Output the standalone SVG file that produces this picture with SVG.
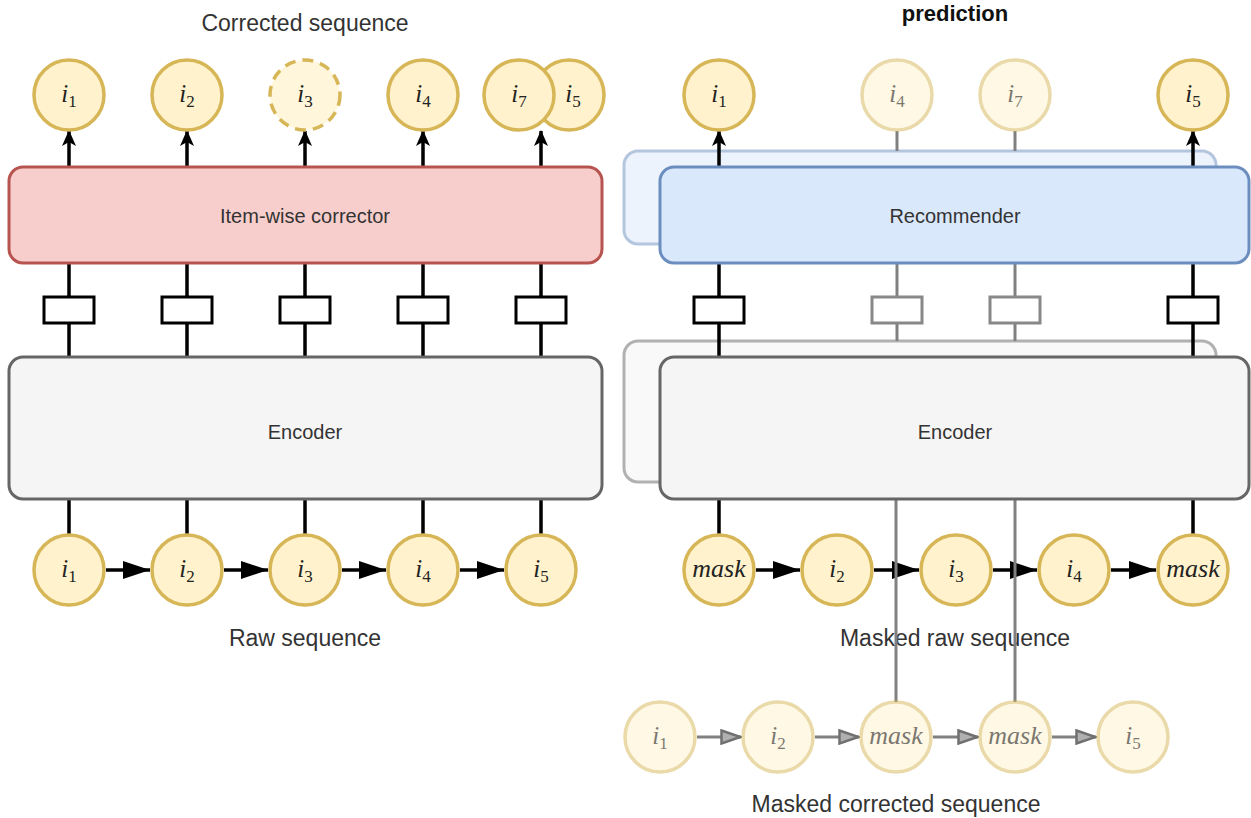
<svg xmlns="http://www.w3.org/2000/svg" width="1251" height="818" viewBox="0 0 1251 818">
<style>
.t{font-family:"Liberation Sans",Arial,sans-serif;fill:#333;text-anchor:middle}
.cap{font-size:23px}
.bl{font-size:20px}
.bold{font-weight:bold;fill:#111;font-size:22px}
.m{font-family:"Liberation Serif","Times New Roman",serif;font-style:italic;font-size:25px;fill:#222;text-anchor:middle}
.s{font-style:normal;font-size:17px}
.mk{font-size:26px}
.itm{fill:#fff2cc;stroke:#d6b656;stroke-width:3.5}
.dash{fill:#fff2cc;fill-opacity:0.7;stroke:#d6b656;stroke-width:3.5;stroke-dasharray:11 7}
.fade{opacity:0.5}
.fadet{opacity:0.6}
.red{fill:#f8cecc;stroke:#b85450;stroke-width:3}
.blue{fill:#dae8fc;stroke:#6c8ebf;stroke-width:3}
.gray{fill:#f5f5f5;stroke:#666;stroke-width:3}
.sb{fill:#fff;stroke:#000;stroke-width:3}
.sbg{fill:#fff;stroke:#888;stroke-width:3}
.ln{stroke:#000;stroke-width:3.5;fill:none}
.lg{stroke:#808080;stroke-width:3;fill:none}
.up{marker-end:url(#up)}
.ar{marker-end:url(#blk)}
.ag{marker-end:url(#gry)}
</style>
<defs>
<marker id="up" markerUnits="userSpaceOnUse" viewBox="0 0 16 15" refX="15" refY="7.5" markerWidth="16" markerHeight="15" orient="auto"><path d="M0,0.5 L16,7.5 L0,14.5 L4,7.5 z" fill="#000"/></marker>
<marker id="blk" markerUnits="userSpaceOnUse" viewBox="0 0 27 18" refX="27" refY="9" markerWidth="27" markerHeight="18" orient="auto"><path d="M0,0 L27,9 L0,18 z" fill="#000"/></marker>
<marker id="gry" markerUnits="userSpaceOnUse" viewBox="0 0 22 16" refX="21" refY="8" markerWidth="22" markerHeight="16" orient="auto"><path d="M1.5,1.5 L20.5,8 L1.5,14.5 z" fill="#b0b0b0" stroke="#707070" stroke-width="2.5"/></marker>
</defs>

<g id="labels">
<text class="t cap" x="305" y="31">Corrected sequence</text>
<text class="t bold" x="955" y="21">prediction</text>
<text class="t cap" x="305" y="646">Raw sequence</text>
<text class="t cap" x="955" y="646">Masked raw sequence</text>
<text class="t cap" x="896" y="812">Masked corrected sequence</text>
</g>

<g id="back-blocks">
<rect id="rec-back" class="blue fade" x="624" y="151" width="592" height="93" rx="14"/>
<rect id="enc-back" class="gray fade" x="624" y="341" width="592" height="141" rx="14"/>
</g>

<g id="connectors">
<line class="ln up" x1="69" y1="167" x2="69" y2="131"/>
<line class="ln up" x1="187" y1="167" x2="187" y2="131"/>
<line class="ln up" x1="305" y1="167" x2="305" y2="131"/>
<line class="ln up" x1="423" y1="167" x2="423" y2="131"/>
<line class="ln up" x1="541" y1="167" x2="541" y2="131"/>
<line class="ln" x1="69" y1="263" x2="69" y2="357"/>
<line class="ln" x1="187" y1="263" x2="187" y2="357"/>
<line class="ln" x1="305" y1="263" x2="305" y2="357"/>
<line class="ln" x1="423" y1="263" x2="423" y2="357"/>
<line class="ln" x1="541" y1="263" x2="541" y2="357"/>
<line class="ln" x1="69" y1="499" x2="69" y2="535"/>
<line class="ln" x1="187" y1="499" x2="187" y2="535"/>
<line class="ln" x1="305" y1="499" x2="305" y2="535"/>
<line class="ln" x1="423" y1="499" x2="423" y2="535"/>
<line class="ln" x1="541" y1="499" x2="541" y2="535"/>
<line class="ln ar" x1="106" y1="570" x2="150" y2="570"/>
<line class="ln ar" x1="224" y1="570" x2="268" y2="570"/>
<line class="ln ar" x1="342" y1="570" x2="386" y2="570"/>
<line class="ln ar" x1="460" y1="570" x2="504" y2="570"/>
<line class="ln up" x1="719" y1="167" x2="719" y2="131"/>
<line class="ln up" x1="1193" y1="167" x2="1193" y2="131"/>
<line class="lg" x1="897" y1="131" x2="897" y2="151"/>
<line class="lg" x1="1015" y1="131" x2="1015" y2="151"/>
<line class="ln" x1="719" y1="263" x2="719" y2="357"/>
<line class="ln" x1="1193" y1="263" x2="1193" y2="357"/>
<line class="lg" x1="897" y1="263" x2="897" y2="341"/>
<line class="lg" x1="1015" y1="263" x2="1015" y2="341"/>
<line class="ln" x1="719" y1="499" x2="719" y2="535"/>
<line class="ln" x1="1193" y1="499" x2="1193" y2="535"/>
<line class="ln ar" x1="756" y1="570" x2="800" y2="570"/>
<line class="ln ar" x1="874" y1="570" x2="919" y2="570"/>
<line class="ln ar" x1="993" y1="570" x2="1037" y2="570"/>
<line class="ln ar" x1="1111" y1="570" x2="1156" y2="570"/>
<line class="lg" x1="896" y1="499" x2="896" y2="702"/>
<line class="lg" x1="1015" y1="499" x2="1015" y2="702"/>
<line class="lg ag" x1="697" y1="737" x2="741" y2="737"/>
<line class="lg ag" x1="815" y1="737" x2="859" y2="737"/>
<line class="lg ag" x1="933" y1="737" x2="978" y2="737"/>
<line class="lg ag" x1="1052" y1="737" x2="1096" y2="737"/>
</g>

<g id="corrector"><rect class="red" x="9" y="167" width="593" height="96" rx="14"/><text class="t bl" x="305" y="223">Item-wise corrector</text></g>
<g id="encoder-left"><rect class="gray" x="9" y="357" width="593" height="142" rx="14"/><text class="t bl" x="305" y="439">Encoder</text></g>
<g id="recommender"><rect class="blue" x="660" y="167" width="589" height="96" rx="14"/><text class="t bl" x="955" y="223">Recommender</text></g>
<g id="encoder-right"><rect class="gray" x="660" y="357" width="589" height="142" rx="14"/><text class="t bl" x="955" y="439">Encoder</text></g>

<g id="boxes">
<rect class="sb" x="44" y="297" width="50" height="26"/>
<rect class="sb" x="162" y="297" width="50" height="26"/>
<rect class="sb" x="280" y="297" width="50" height="26"/>
<rect class="sb" x="398" y="297" width="50" height="26"/>
<rect class="sb" x="516" y="297" width="50" height="26"/>
<rect class="sb" x="694" y="297" width="50" height="26"/>
<rect class="sbg" x="872" y="297" width="50" height="26"/>
<rect class="sbg" x="990" y="297" width="50" height="26"/>
<rect class="sb" x="1168" y="297" width="50" height="26"/>
</g>

<g id="corrected-seq">
<g id="c1"><circle class="itm" cx="69" cy="95" r="35"/><text class="m" x="69" y="102">i<tspan class="s" dy="5">1</tspan></text></g>
<g id="c2"><circle class="itm" cx="187" cy="95" r="35"/><text class="m" x="187" y="102">i<tspan class="s" dy="5">2</tspan></text></g>
<g id="c3"><circle class="dash" cx="305" cy="95" r="35"/><text class="m" x="305" y="102">i<tspan class="s" dy="5">3</tspan></text></g>
<g id="c4"><circle class="itm" cx="423" cy="95" r="35"/><text class="m" x="423" y="102">i<tspan class="s" dy="5">4</tspan></text></g>
<g id="c5"><circle class="itm" cx="569" cy="95" r="35"/><text class="m" x="573" y="102">i<tspan class="s" dy="5">5</tspan></text></g>
<g id="c7"><circle class="itm" cx="519" cy="95" r="35"/><text class="m" x="519" y="102">i<tspan class="s" dy="5">7</tspan></text></g>
</g>

<g id="raw-seq">
<g id="r1"><circle class="itm" cx="69" cy="570" r="35"/><text class="m" x="69" y="577">i<tspan class="s" dy="5">1</tspan></text></g>
<g id="r2"><circle class="itm" cx="187" cy="570" r="35"/><text class="m" x="187" y="577">i<tspan class="s" dy="5">2</tspan></text></g>
<g id="r3"><circle class="itm" cx="305" cy="570" r="35"/><text class="m" x="305" y="577">i<tspan class="s" dy="5">3</tspan></text></g>
<g id="r4"><circle class="itm" cx="423" cy="570" r="35"/><text class="m" x="423" y="577">i<tspan class="s" dy="5">4</tspan></text></g>
<g id="r5"><circle class="itm" cx="541" cy="570" r="35"/><text class="m" x="541" y="577">i<tspan class="s" dy="5">5</tspan></text></g>
</g>

<g id="prediction-seq">
<g id="p1"><circle class="itm" cx="719" cy="95" r="35"/><text class="m" x="719" y="102">i<tspan class="s" dy="5">1</tspan></text></g>
<g id="p4"><circle class="itm fade" cx="897" cy="95" r="35"/><text class="m fadet" x="897" y="102">i<tspan class="s" dy="5">4</tspan></text></g>
<g id="p7"><circle class="itm fade" cx="1015" cy="95" r="35"/><text class="m fadet" x="1015" y="102">i<tspan class="s" dy="5">7</tspan></text></g>
<g id="p5"><circle class="itm" cx="1193" cy="95" r="35"/><text class="m" x="1193" y="102">i<tspan class="s" dy="5">5</tspan></text></g>
</g>

<g id="masked-raw-seq">
<g id="mr1"><circle class="itm" cx="719" cy="570" r="35"/><text class="m mk" x="719" y="577">mask</text></g>
<g id="mr2"><circle class="itm" cx="837" cy="570" r="35"/><text class="m" x="837" y="577">i<tspan class="s" dy="5">2</tspan></text></g>
<g id="mr3"><circle class="itm" cx="956" cy="570" r="35"/><text class="m" x="956" y="577">i<tspan class="s" dy="5">3</tspan></text></g>
<g id="mr4"><circle class="itm" cx="1074" cy="570" r="35"/><text class="m" x="1074" y="577">i<tspan class="s" dy="5">4</tspan></text></g>
<g id="mr5"><circle class="itm" cx="1193" cy="570" r="35"/><text class="m mk" x="1193" y="577">mask</text></g>
</g>

<g id="masked-corrected-seq">
<g id="mc1"><circle class="itm fade" cx="660" cy="737" r="35"/><text class="m fadet" x="660" y="744">i<tspan class="s" dy="5">1</tspan></text></g>
<g id="mc2"><circle class="itm fade" cx="778" cy="737" r="35"/><text class="m fadet" x="778" y="744">i<tspan class="s" dy="5">2</tspan></text></g>
<g id="mc3"><circle class="itm fade" cx="896" cy="737" r="35"/><text class="m mk fadet" x="896" y="744">mask</text></g>
<g id="mc4"><circle class="itm fade" cx="1015" cy="737" r="35"/><text class="m mk fadet" x="1015" y="744">mask</text></g>
<g id="mc5"><circle class="itm fade" cx="1133" cy="737" r="35"/><text class="m fadet" x="1133" y="744">i<tspan class="s" dy="5">5</tspan></text></g>
</g>
</svg>
